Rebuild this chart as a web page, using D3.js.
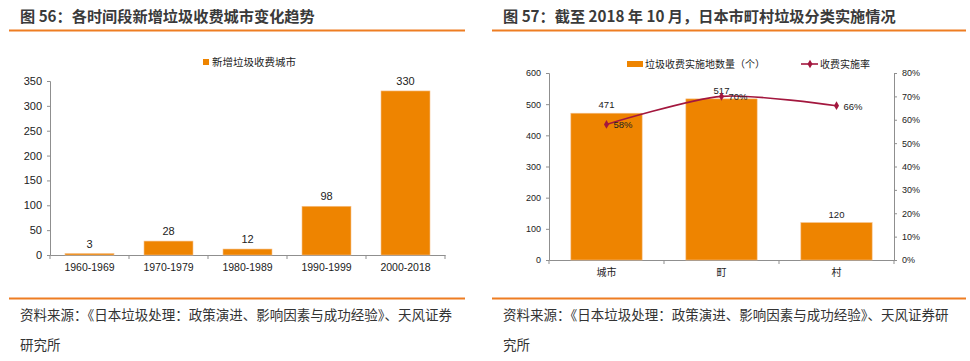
<!DOCTYPE html>
<html><head><meta charset="utf-8">
<script src="https://cdn.jsdelivr.net/npm/d3@7/dist/d3.min.js"></script>
<style>
body{margin:0;background:#fff;}
svg{display:block;}
text{font-family:"Liberation Sans",Arial,"Noto Sans CJK SC",sans-serif;}
.cjk{font-family:"Noto Sans CJK SC","Liberation Sans",sans-serif;}
</style></head>
<body>
<svg id="c" width="970" height="361"></svg>
<script>
// ---- data ----
const title1 = "图 56：各时间段新增垃圾收费城市变化趋势";
const title2 = "图 57：截至 2018 年 10 月，日本市町村垃圾分类实施情况";
const periods = ["1960-1969","1970-1979","1980-1989","1990-1999","2000-2018"];
const newCities = [3,28,12,98,330];
const legend1 = "新增垃圾收费城市";
const yTicks1 = [0,50,100,150,200,250,300,350];

const municipalTypes = ["城市","町","村"];
const chargeCounts = [471,517,120];
const chargeRates = [0.58,0.70,0.66];
const legend2a = "垃圾收费实施地数量（个）";
const legend2b = "收费实施率";
const yTicks2 = [0,100,200,300,400,500,600];
const yTicks2r = [0,0.1,0.2,0.3,0.4,0.5,0.6,0.7,0.8];
const sourceLeft = ["资料来源：《日本垃圾处理：政策演进、影响因素与成功经验》、天风证券","研究所"];
const sourceRight = ["资料来源：《日本垃圾处理：政策演进、影响因素与成功经验》、天风证券研","究所"];

const ORANGE = "#ee8400", LINE = "#a3173e", RULE = "#ee7d22", AX = "#8f8f8f", TXT = "#222";
const svg = d3.select("#c");

// headers & footers
function header(x0, x1, tx, t){
  svg.append("text").attr("class","cjk").attr("x",tx).attr("y",22).attr("font-size",15.2).attr("font-weight","bold").attr("fill","#3a3a3a").text(t);
  svg.append("line").attr("x1",x0).attr("x2",x1).attr("y1",30.5).attr("y2",30.5).attr("stroke",RULE).attr("stroke-width",2);
  svg.append("line").attr("x1",x0).attr("x2",x1).attr("y1",298.5).attr("y2",298.5).attr("stroke",RULE).attr("stroke-width",2);
}
header(9,465,20,title1);
header(492,966,503,title2);
function footer(x, lines){
  lines.forEach((l,i)=>svg.append("text").attr("class","cjk").attr("x",x).attr("y",320+i*29.5).attr("font-size",13.5).attr("fill","#333").text(l));
}
footer(20, sourceLeft);
footer(503, sourceRight);

function styleAxis(g){
  g.selectAll(".domain").attr("stroke",AX);
  g.selectAll(".tick line").attr("stroke",AX);
  g.selectAll(".tick text").attr("fill",TXT);
}

// ---- chart 1 ----
{
  const x = d3.scaleBand().domain(periods).range([50,445]);
  const y = d3.scaleLinear().domain([0,350]).range([255,81]);
  const ga = svg.append("g").attr("transform","translate(50,0)")
    .call(d3.axisLeft(y).tickValues(yTicks1).tickSize(3).tickPadding(5));
  ga.selectAll("text").attr("font-size",11);
  styleAxis(ga);
  const gx = svg.append("g").attr("transform","translate(0,255)")
    .call(d3.axisBottom(x).tickSize(0).tickPadding(9).tickSizeOuter(0));
  gx.selectAll("text").attr("font-size",10.5);
  styleAxis(gx);
  svg.append("g").selectAll("line").data(periods.concat([null])).join("line")
    .attr("x1",(d,i)=>50+i*x.step()).attr("x2",(d,i)=>50+i*x.step())
    .attr("y1",255).attr("y2",259).attr("stroke",AX);
  const bw = x.step()*0.62;
  svg.append("g").selectAll("rect").data(newCities).join("rect")
    .attr("x",(d,i)=>x(periods[i])+(x.step()-bw)/2).attr("width",bw)
    .attr("y",d=>y(d)).attr("height",d=>y(0)-y(d))
    .attr("fill",ORANGE).attr("stroke","#f6c08a").attr("stroke-width",0.6);
  svg.append("g").selectAll("text").data(newCities).join("text")
    .attr("x",(d,i)=>x(periods[i])+x.step()/2).attr("y",d=>y(d)-6)
    .attr("text-anchor","middle").attr("font-size",11).attr("fill",TXT).text(d=>d);
  svg.append("rect").attr("x",203).attr("y",59).attr("width",6).attr("height",6).attr("fill",ORANGE);
  svg.append("text").attr("class","cjk").attr("x",212).attr("y",66).attr("font-size",10.5).attr("fill",TXT).text(legend1);
}

// ---- chart 2 ----
{
  const x = d3.scaleBand().domain(municipalTypes).range([549,894]);
  const y = d3.scaleLinear().domain([0,600]).range([260,73]);
  const y2 = d3.scaleLinear().domain([0,0.8]).range([260,73]);
  const ga = svg.append("g").attr("transform","translate(549,0)")
    .call(d3.axisLeft(y).tickValues(yTicks2).tickSize(3).tickPadding(5));
  ga.selectAll("text").attr("font-size",9);
  styleAxis(ga);
  const gr = svg.append("g").attr("transform","translate(894,0)")
    .call(d3.axisRight(y2).tickValues(yTicks2r).tickFormat(d3.format(".0%")).tickSize(3).tickPadding(5));
  gr.selectAll("text").attr("font-size",9);
  styleAxis(gr);
  const gx = svg.append("g").attr("transform","translate(0,260)")
    .call(d3.axisBottom(x).tickSize(0).tickPadding(9).tickSizeOuter(0));
  gx.selectAll("text").attr("font-size",10).attr("class","cjk");
  styleAxis(gx);
  svg.append("g").selectAll("line").data(municipalTypes.concat([null])).join("line")
    .attr("x1",(d,i)=>549+i*x.step()).attr("x2",(d,i)=>549+i*x.step())
    .attr("y1",260).attr("y2",264).attr("stroke",AX);
  const bw = x.step()*0.62;
  svg.append("g").selectAll("rect").data(chargeCounts).join("rect")
    .attr("x",(d,i)=>x(municipalTypes[i])+(x.step()-bw)/2).attr("width",bw)
    .attr("y",d=>y(d)).attr("height",d=>y(0)-y(d))
    .attr("fill",ORANGE).attr("stroke","#f6c08a").attr("stroke-width",0.6);
  svg.append("g").selectAll("text").data(chargeCounts).join("text")
    .attr("x",(d,i)=>x(municipalTypes[i])+x.step()/2).attr("y",d=>y(d)-5)
    .attr("text-anchor","middle").attr("font-size",9.5).attr("fill",TXT).text(d=>d);
  const cx = i=>x(municipalTypes[i])+x.step()/2;
  const line = d3.line().x((d,i)=>cx(i)).y(d=>y2(d)).curve(d3.curveCardinal.tension(0.2));
  svg.append("path").datum(chargeRates).attr("d",line).attr("fill","none").attr("stroke",LINE).attr("stroke-width",1.6);
  const diamond = d3.symbol().type(d3.symbolDiamond).size(22);
  svg.append("g").selectAll("path").data(chargeRates).join("path")
    .attr("d",diamond).attr("transform",(d,i)=>`translate(${cx(i)},${y2(d)})`).attr("fill",LINE);
  svg.append("g").selectAll("text").data(chargeRates).join("text")
    .attr("x",(d,i)=>cx(i)+7).attr("y",d=>y2(d)+4)
    .attr("font-size",9.5).attr("fill",TXT).text(d=>d3.format(".0%")(d));
  // legend
  svg.append("rect").attr("x",627).attr("y",61).attr("width",16).attr("height",6).attr("fill",ORANGE);
  svg.append("text").attr("class","cjk").attr("x",645).attr("y",67.5).attr("font-size",10).attr("fill",TXT).text(legend2a);
  svg.append("line").attr("x1",801).attr("x2",818).attr("y1",64).attr("y2",64).attr("stroke",LINE).attr("stroke-width",1.6);
  svg.append("path").attr("d",diamond).attr("transform","translate(810,64)").attr("fill",LINE);
  svg.append("text").attr("class","cjk").attr("x",820).attr("y",67.5).attr("font-size",10).attr("fill",TXT).text(legend2b);
}
</script>
</body></html>
